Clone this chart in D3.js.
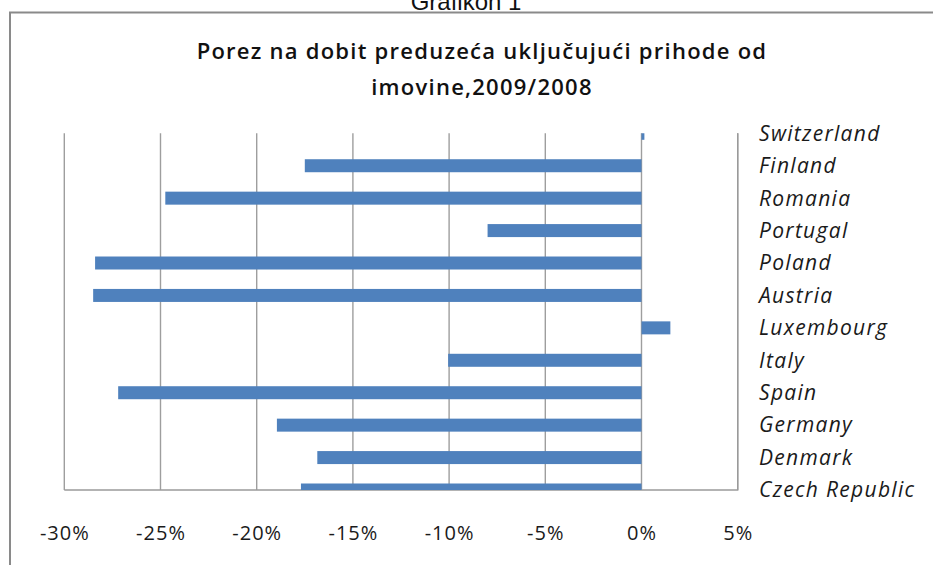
<!DOCTYPE html>
<html><head><meta charset="utf-8">
<script src="https://cdn.jsdelivr.net/npm/d3@7"></script>
<style>
html,body{margin:0;padding:0;background:#fff;overflow:hidden;}
svg{display:block;}
</style></head>
<body>
<svg id="chart" width="933" height="565"></svg>
<script>
const categories = ["Switzerland","Finland","Romania","Portugal","Poland","Austria","Luxembourg","Italy","Spain","Germany","Denmark","Czech Republic"];
const values = [0.15,-17.5,-24.75,-8.0,-28.4,-28.5,1.5,-10.05,-27.2,-18.95,-16.85,-17.7];
const tickValues = [-30,-25,-20,-15,-10,-5,0,5];
const tickLabels = ["-30%","-25%","-20%","-15%","-10%","-5%","0%","5%"];
const titleLines = ["Porez na dobit preduzeća uključujući prihode od","imovine,2009/2008"];
const captionText = "Grafikon 1";

const svg = d3.select("#chart");
const plot = {left:64.3, right:737.7, top:133.3, bottom:490};

// caption & frame
svg.append("text").attr("x",466).attr("y",10).attr("text-anchor","middle")
  .attr("font-family","Liberation Sans, Arial, sans-serif").attr("font-size",24).attr("fill","#111")
  .text(captionText);
svg.append("rect").attr("x",10).attr("y",12.5).attr("width",1000).attr("height",700)
  .attr("fill","none").attr("stroke","#8a8a8a").attr("stroke-width",2);

// title
svg.append("g").selectAll("text").data(titleLines).join("text")
  .attr("x",482).attr("y",(d,i)=>59+i*36).attr("text-anchor","middle")
  .attr("font-family","Open Sans, sans-serif").attr("font-weight",600).attr("font-size",22)
  .attr("letter-spacing",1.25).attr("fill","#111").text(d=>d);

const x = d3.scaleLinear().domain([-30,5]).range([plot.left,plot.right]);
const y = d3.scalePoint().domain(categories).range([plot.top,plot.bottom]);

// gridlines
svg.append("g").selectAll("line").data(tickValues).join("line")
  .attr("x1",d=>x(d)).attr("x2",d=>x(d)).attr("y1",plot.top).attr("y2",plot.bottom)
  .attr("stroke","#9e9e9e").attr("stroke-width",1.4);
// plot border (right & bottom)
svg.append("path").attr("d",`M${plot.right},${plot.top}V${plot.bottom}H${plot.left}`)
  .attr("fill","none").attr("stroke","#9a9a9a").attr("stroke-width",1.4);

svg.append("clipPath").attr("id","clip").append("rect")
  .attr("x",plot.left).attr("y",plot.top).attr("width",plot.right-plot.left).attr("height",plot.bottom-plot.top);

const bh = 13;
svg.append("g").attr("clip-path","url(#clip)").selectAll("rect").data(categories).join("rect")
  .attr("x",(d,i)=>x(Math.min(0,values[i])))
  .attr("width",(d,i)=>Math.abs(x(values[i])-x(0)))
  .attr("y",d=>y(d)-bh/2).attr("height",bh)
  .attr("fill","#4f81bd");

// category labels
svg.append("g").selectAll("text").data(categories).join("text")
  .attr("x",759).attr("y",d=>y(d)).attr("dy","0.35em")
  .attr("font-family","Open Sans, sans-serif").attr("font-style","italic").attr("font-size",21)
  .attr("letter-spacing",1.3).attr("fill","#1a1a1a").text(d=>d);

// x tick labels
const xAxis = d3.axisBottom(x).tickValues(tickValues).tickFormat((d,i)=>tickLabels[i]).tickSize(0).tickPadding(0);
const ax = svg.append("g").attr("transform","translate(0,540)").call(xAxis);
ax.select(".domain").remove();
ax.selectAll("text").attr("dy",0).attr("y",0)
  .attr("font-family","Open Sans, sans-serif").attr("font-size",20).attr("letter-spacing",1)
  .attr("fill","#1a1a1a");
</script>
</body></html>
